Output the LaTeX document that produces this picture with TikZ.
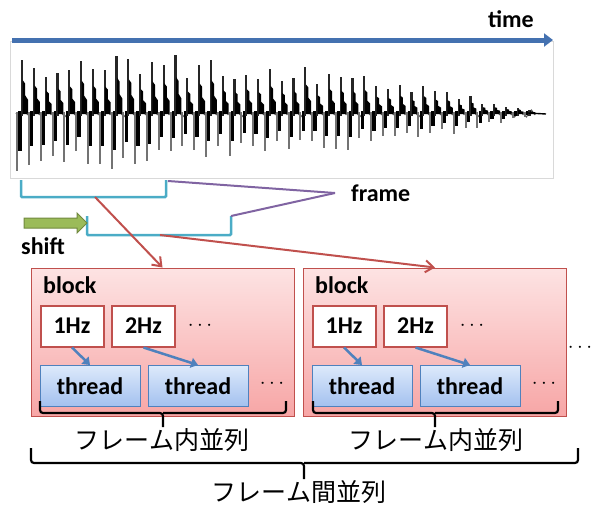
\documentclass[tikz,border=0pt]{standalone}
\usepackage{fontspec}
\setmainfont{Carlito}
\newfontfamily\jpfont{Noto Sans CJK JP}
\usetikzlibrary{arrows.meta,positioning,shapes.arrows}
\definecolor{timeblue}{HTML}{4471B0}
\definecolor{framecyan}{HTML}{4BACC6}
\definecolor{framepurple}{HTML}{8064A2}
\definecolor{blockred}{HTML}{C0504D}
\definecolor{blocktop}{HTML}{FDE3E3}
\definecolor{blockbot}{HTML}{F7A6A6}
\definecolor{threadblue}{HTML}{4F81BD}
\definecolor{threadtop}{HTML}{DDE9FB}
\definecolor{threadbot}{HTML}{A3C1EF}
\definecolor{shiftgreen}{HTML}{9BBB59}
\definecolor{shiftgreendark}{HTML}{71893F}
\tikzset{
  lbl/.style={font=\fontsize{24}{26}\selectfont\bfseries, inner sep=0pt},
  jplbl/.style={font=\jpfont\fontsize{25}{28}\selectfont, inner sep=0pt},
  blockbox/.style={rectangle, draw=blockred, line width=1pt, top color=blocktop, bottom color=blockbot, minimum width=263pt, minimum height=148pt},
  hzbox/.style={rectangle, draw=blockred, line width=2pt, fill=white, minimum width=63pt, minimum height=41pt, font=\fontsize{24}{26}\selectfont\bfseries},
  threadbox/.style={rectangle, draw=threadblue, line width=1pt, top color=threadtop, bottom color=threadbot, minimum width=100pt, minimum height=41pt, font=\fontsize{24}{26}\selectfont\bfseries},
  dotslbl/.style={font=\fontsize{22}{24}\selectfont, inner sep=0pt},
  framebrk/.style={draw=framecyan, line width=2.5pt, rounded corners=1pt},
  framept/.style={draw=framepurple, line width=2pt},
  toblock/.style={-{Straight Barb[length=8pt,width=12pt,line width=2pt]}, draw=blockred, line width=2pt},
  tothread/.style={-{Triangle[length=7pt,width=10pt]}, draw=threadblue, line width=2.5pt},
  brace/.style={draw=black, line width=2.2pt, rounded corners=3pt},
}
\begin{document}
\begin{tikzpicture}[x=1pt,y=-1pt]
  \useasboundingbox (0,0) rectangle (596,504);
  % waveform
  \node[draw=black!15, line width=0.8pt, fill=white, minimum width=543pt, minimum height=137pt, inner sep=0pt] (wave) at (281.5,110) {};
  \pgfmathsetseed{11}
  \foreach \i in {0,...,43}{
    \pgfmathsetmacro\xa{22+\i*11.8}
    \pgfmathsetmacro\amp{63*(1-((\xa-15)/530)^2.5)}
    \pgfmathsetmacro\up{\amp*(0.55+0.45*rnd)}
    \pgfmathsetmacro\dn{\amp*0.95*(0.55+0.45*rnd)}
    \draw[line width=1pt, black!65] (\xa-6,113) -- (\xa-3,117) -- (\xa+2,110) -- (\xa+5.8,115);
    \draw[line width=2pt, black!55] (\xa-4.8,112) -- (\xa-4.8,113+\dn);
    \draw[line width=3.2pt] (\xa-2,111) -- (\xa-2,113+0.65*\dn);
    \draw[line width=2.2pt, black!85] (\xa,116) -- (\xa,113-\up);
    \fill (\xa+0.6,113-0.62*\up) -- (\xa+3.2,113-0.55*\up) -- (\xa+3.2,113-0.33*\up)
      -- (\xa+6,113-0.25*\up) -- (\xa+6,114) -- (\xa+0.6,114) -- cycle;
  }
  \draw[line width=1.4pt] (528,113) -- (546,114);
  % time axis
  \coordinate (t0) at (12,40);
  \coordinate (t1) at (553,40);
  \draw[-{Triangle[length=9pt,width=13pt]}, draw=timeblue, line width=5pt] (t0) -- (t1);
  \node[lbl] (time) at (511,19) {time};
  % frames
  \coordinate (f1l) at (21,180);
  \coordinate (f1r) at (166,180);
  \coordinate (f2l) at (87,216);
  \coordinate (f2r) at (231,216);
  \draw[framebrk] (f1l) |- (166,197) -- (f1r);
  \draw[framebrk] (f2l) |- (231,235) -- (f2r);
  \coordinate (f1mid) at (95,197);
  \coordinate (f2mid) at (160,235);
  \coordinate (fjoin) at (335,193);
  \node[lbl, anchor=west] (frame) at (351,193) {frame};
  \draw[framept] (168,181) -- (fjoin);
  \draw[framept] (f2r) -- (fjoin);
  % shift
  \node[single arrow, draw=shiftgreendark, fill=shiftgreen, line width=1pt, minimum height=63pt, minimum width=20pt, single arrow head extend=5pt, inner sep=4.5pt] (shiftarr) at (53,223) {};
  \node[lbl] (shift) at (43,246) {shift};
  % blocks
  \node[blockbox] (blockA) at (162.5,342) {};
  \node[blockbox] (blockB) at (435,342) {};
  \foreach \b/\dx in {A/0,B/272}{
    \node[lbl, anchor=west] (blk\b) at (43+\dx,285) {block};
    \node[hzbox] (hz\b1) at (72+\dx,326) {1Hz};
    \node[hzbox] (hz\b2) at (143.5+\dx,326) {2Hz};
    \node[dotslbl] (hzdots\b) at (200+\dx,326) {$\cdots$};
    \node[threadbox] (th\b1) at (90+\dx,386) {thread};
    \node[threadbox] (th\b2) at (198+\dx,386) {thread};
    \node[dotslbl] (thdots\b) at (272+\dx,384) {$\cdots$};
    \draw[tothread] (hz\b1.south) -- (th\b1.north);
    \draw[tothread] (hz\b2.south) -- (th\b2.north);
  }
  \node[dotslbl] (moredots) at (580,348) {$\cdots$};
  \draw[toblock] (f1mid) -- (blockA.north);
  \draw[toblock] (f2mid) -- (blockB.north);
  % braces
  \coordinate (bA) at (163,427);
  \coordinate (bB) at (435,427);
  \draw[brace] (40,401) |- (163,413) -- (bA);
  \draw[brace] (163,413) -| (286,401);
  \draw[brace] (313,401) |- (435,413) -- (bB);
  \draw[brace] (435,413) -| (558,401);
  \node[jplbl] (inA) at (162,440) {フレーム内並列};
  \node[jplbl] (inB) at (436,440) {フレーム内並列};
  \coordinate (bAll) at (304,479);
  \draw[brace] (31,448) |- (304,463) -- (bAll);
  \draw[brace] (304,463) -| (578,448);
  \node[jplbl] (between) at (299,492) {フレーム間並列};
\end{tikzpicture}
\end{document}
